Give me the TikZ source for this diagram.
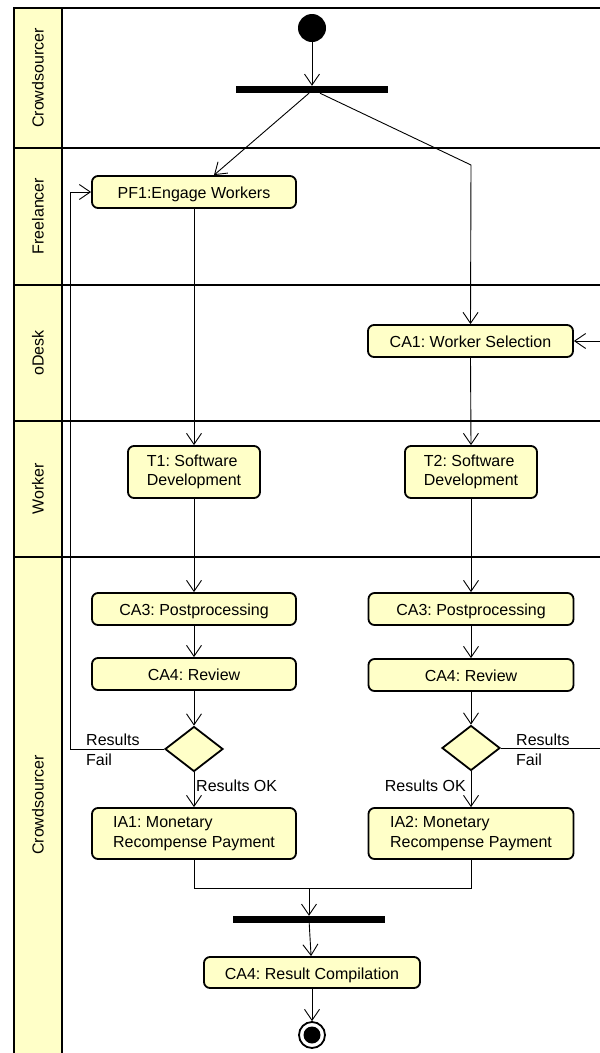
\documentclass[tikz,border=0pt]{standalone}
\usepackage{fontspec}
\setmainfont{Liberation Sans}
\usetikzlibrary{arrows.meta,shapes.geometric}
\definecolor{uyellow}{RGB}{255,255,200}
\frenchspacing
\newcommand{\twoline}[2]{\begin{tabular}{@{}l@{}}#1\\#2\end{tabular}}
\begin{document}
\begin{tikzpicture}[x=1pt,y=-1pt,
  font=\fontsize{16}{19.5}\selectfont,
  lane/.style={line width=2.6pt},
  actbase/.style={draw, line width=1.8pt, fill=uyellow, rounded corners=6pt, inner sep=0pt},
  act/.style={actbase, text height=14pt, text depth=1pt},
  act2/.style={actbase},
  flow/.style={line width=0.9pt, -{Straight Barb[length=11pt,width=15pt,line width=0.9pt]}},
  conn/.style={line width=0.9pt},
  bar/.style={fill=black, inner sep=0pt, minimum height=7pt},
  dec/.style={diamond, draw, line width=1.8pt, fill=uyellow, inner sep=0pt, minimum width=58pt, minimum height=45pt},
  lbl/.style={inner sep=0pt, align=left},
  hdr/.style={rotate=90, inner sep=0pt}]
\useasboundingbox (0,0) rectangle (600,1053);
\clip (0,0) rectangle (600,1053);
% lanes
\fill[uyellow] (14,8) rectangle (62,1060);
\draw[lane] (14,1060) -- (14,8) -- (610,8);
\draw[lane] (62,8) -- (62,1060);
\draw[lane] (14,148) -- (610,148);
\draw[lane] (14,285) -- (610,285);
\draw[lane] (14,421) -- (610,421);
\draw[lane] (14,557) -- (610,557);
\node[hdr] (h1) at (38,78) {Crowdsourcer};
\node[hdr] (h2) at (38,216) {Freelancer};
\node[hdr] (h3) at (38,353) {oDesk};
\node[hdr] (h4) at (38,489) {Worker};
\node[hdr] (h5) at (38,805) {Crowdsourcer};
% nodes
\node[circle, fill=black, inner sep=0pt, minimum size=28pt] (init) at (312,28) {};
\node[bar, minimum width=152pt] (fork) at (312,89.5) {};
\node[act, minimum width=204pt, minimum height=32pt] (pf1) at (194,192) {PF1:Engage Workers};
\node[act, minimum width=205pt, minimum height=32pt] (ca1) at (470.5,341) {CA1: Worker Selection};
\node[act2, minimum width=132pt, minimum height=52pt] (t1) at (194,472) {\twoline{T1: Software}{Development}};
\node[act2, minimum width=132pt, minimum height=52pt] (t2) at (471,472) {\twoline{T2: Software}{Development}};
\node[act, minimum width=204pt, minimum height=32pt] (ca3l) at (194,609) {CA3: Postprocessing};
\node[act, minimum width=205pt, minimum height=32pt] (ca3r) at (471,609) {CA3: Postprocessing};
\node[act, minimum width=204pt, minimum height=32pt] (ca4l) at (194,674) {CA4: Review};
\node[act, minimum width=205pt, minimum height=32pt] (ca4r) at (471,675) {CA4: Review};
\node[dec] (d1) at (194,749) {};
\node[dec] (d2) at (471,748) {};
\node[act2, minimum width=204pt, minimum height=51pt] (ia1) at (194,833.5) {\twoline{IA1: Monetary}{Recompense Payment}};
\node[act2, minimum width=205pt, minimum height=51pt] (ia2) at (471,833.5) {\twoline{IA2: Monetary}{Recompense Payment}};
\node[bar, minimum width=152pt] (join) at (309,919.5) {};
\node[act, minimum width=216pt, minimum height=31pt] (rc) at (312,972.5) {CA4: Result Compilation};
\node[circle, draw, line width=1.8pt, fill=white, inner sep=0pt, minimum size=26pt] (fin) at (312,1035) {};
\node[circle, fill=black, inner sep=0pt, minimum size=17pt] (finc) at (312,1035) {};
% labels
\node[lbl, anchor=west] (rf1) at (86,750) {Results\\Fail};
\node[lbl, anchor=west] (rf2) at (516,750) {Results\\Fail};
\node[lbl, anchor=west] (ok1) at (196,786) {Results OK};
\node[lbl, anchor=east] (ok2) at (466,786) {Results OK};
% connectors
\draw[flow] (init) -- (fork);
\draw[flow] ([xshift=-3pt]fork.south) -- ([xshift=20pt]pf1.north);
\coordinate (bend) at (471,165);
\draw[flow] ([xshift=8pt]fork.south) -- (bend) -- (ca1.north);
\draw[flow] (pf1) -- (t1);
\draw[flow] (ca1.south) -- (t2.north);
\draw[flow] (t1) -- (ca3l);
\draw[flow] (ca3l) -- (ca4l);
\draw[flow] (ca4l) -- (d1);
\draw[flow] (d1) -- (ia1);
\draw[flow] (t2) -- (ca3r);
\draw[flow] (ca3r) -- (ca4r);
\draw[flow] (ca4r) -- (d2);
\draw[flow] (d2) -- (ia2);
\coordinate (lp) at (70,749);
\draw[flow] (d1.west) -- (lp) |- (pf1.west);
\coordinate (rp) at (615,748);
\draw[flow] (d2.east) -- (rp) |- (ca1.east);
\coordinate (mg) at (309,888);
\draw[conn] (ia1.south) |- (mg) -| (ia2.south);
\draw[flow] (mg) -- (join);
\draw[flow] (join) -- (rc);
\draw[flow] (rc) -- (fin);
\end{tikzpicture}
\end{document}
